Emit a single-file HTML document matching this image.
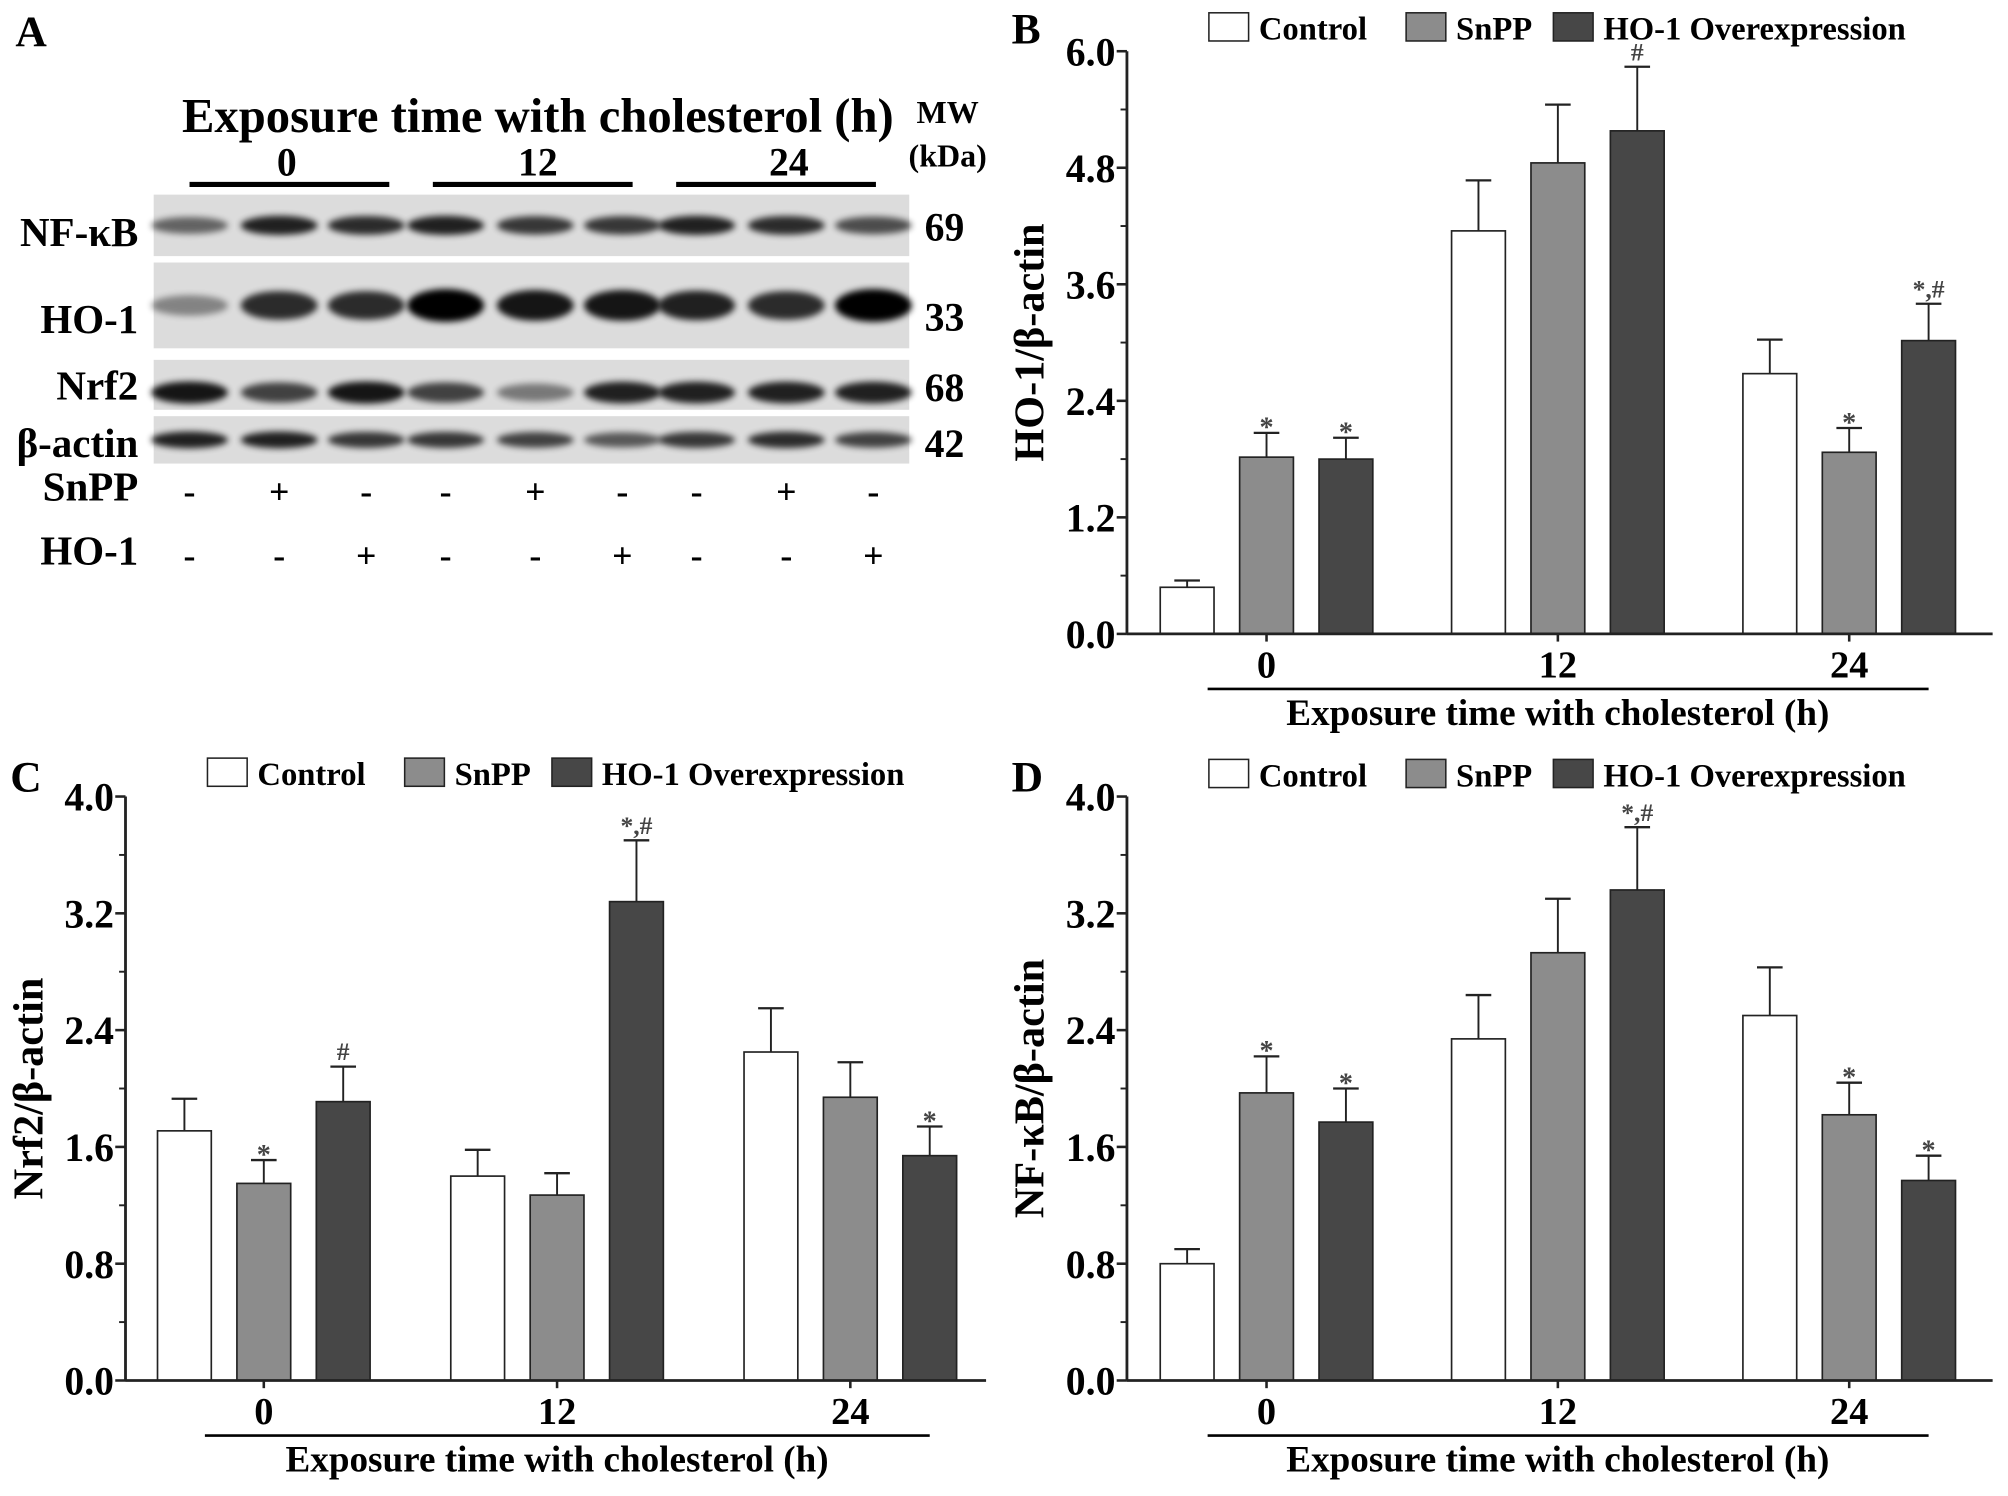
<!DOCTYPE html>
<html><head><meta charset="utf-8"><style>
html,body{margin:0;padding:0;background:#fff;}
svg{display:block;font-family:"Liberation Serif",serif;font-weight:bold;}
</style></head>
<body>
<svg id="fig" width="2008" height="1496" viewBox="0 0 1568 1168.2" preserveAspectRatio="none" xmlns="http://www.w3.org/2000/svg">
<defs><filter id="blur" x="-20%" y="-50%" width="140%" height="200%"><feGaussianBlur stdDeviation="2.5"/></filter></defs>
<g id="panelA">
<text x="12" y="36" font-size="34">A</text>
<text x="420" y="103" font-size="38" text-anchor="middle">Exposure time with cholesterol (h)</text>
<text x="740" y="96" font-size="25" text-anchor="middle">MW</text>
<text x="740" y="130" font-size="25" text-anchor="middle">(kDa)</text>
</g>
<g id="charts"></g>
</svg>
<script>
// ---------- chart data ----------
const categories = ["0", "12", "24"];
const seriesNames = ["Control", "SnPP", "HO-1 Overexpression"];
const seriesColors = ["#ffffff", "#8c8c8c", "#474747"];
const hoValues = [[0.48, 4.15, 2.68], [1.82, 4.85, 1.87], [1.80, 5.18, 3.02]];
const hoErrors = [[0.07, 0.52, 0.35], [0.25, 0.60, 0.25], [0.22, 0.66, 0.38]];
const hoMarks = [["", "", ""], ["*", "", "*"], ["*", "#", "*,#"]];
const hoTicks = ["0.0", "1.2", "2.4", "3.6", "4.8", "6.0"];
const nrfValues = [[1.71, 1.40, 2.25], [1.35, 1.27, 1.94], [1.91, 3.28, 1.54]];
const nrfErrors = [[0.22, 0.18, 0.30], [0.16, 0.15, 0.24], [0.24, 0.42, 0.20]];
const nrfMarks = [["", "", ""], ["*", "", ""], ["#", "*,#", "*"]];
const nfValues = [[0.80, 2.34, 2.50], [1.97, 2.93, 1.82], [1.77, 3.36, 1.37]];
const nfErrors = [[0.10, 0.30, 0.33], [0.25, 0.37, 0.22], [0.23, 0.43, 0.17]];
const nfMarks = [["", "", ""], ["*", "", "*"], ["*", "*,#", "*"]];
const smallTicks = ["0.0", "0.8", "1.6", "2.4", "3.2", "4.0"];
// blot data (band intensity 0..1 per lane)
const blotNames = ["NF-κB", "HO-1", "Nrf2", "β-actin"];
const blotMW = ["69", "33", "68", "42"];
const nfkbBand = [0.55, 0.85, 0.8, 0.85, 0.75, 0.75, 0.85, 0.8, 0.65];
const ho1Band = [0.4, 0.8, 0.8, 1.0, 0.9, 0.9, 0.85, 0.8, 1.0];
const nrf2Band = [0.9, 0.7, 0.9, 0.7, 0.45, 0.85, 0.85, 0.85, 0.85];
const actinBand = [0.85, 0.85, 0.75, 0.75, 0.7, 0.6, 0.75, 0.8, 0.7];
const snppSigns = ["-", "+", "-", "-", "+", "-", "-", "+", "-"];
const ho1Signs = ["-", "-", "+", "-", "-", "+", "-", "-", "+"];

const NS = "http://www.w3.org/2000/svg";
function mk(tag, attrs, parent) {
  const e = document.createElementNS(NS, tag);
  for (const k in attrs) e.setAttribute(k, attrs[k]);
  parent.appendChild(e);
  return e;
}

// ---------- blot ----------
const pa = document.getElementById("panelA");
const laneX = [148, 218, 286, 348, 418, 486, 544, 614, 682];
const strips = [[152, 200, nfkbBand, 0.7, 8], [205, 272, ho1Band, 0.85, 8], [281, 320, nrf2Band, 0.7, 9], [325, 362, actinBand, 0.7, 7]];
["0", "12", "24"].forEach((c, i) => {
  const t = mk("text", {x: 224 + i * 196, y: 137, "font-size": 31, "text-anchor": "middle"}, pa);
  t.textContent = c;
  
  
  const l = mk("line", {x1: 148 + i * 190, x2: 304 + i * 190, y1: 144, y2: 144, stroke: "#000", "stroke-width": 4}, pa);
  
  
});
strips.forEach((s, r) => {
  const g = mk("g", {}, pa);
  
  
  mk("rect", {x: 120, y: s[0], width: 590, height: s[1] - s[0], fill: "#dcdcdc"}, g);
  const cy = (s[0] + s[1]) / 2 + (r === 2 ? 6 : 0);
  s[2].forEach((v, i) => {
    const b = mk("ellipse", {cx: laneX[i], cy: cy, rx: 30, ry: s[4] * (0.6 + v * (r === 1 ? 1.0 : 0.4)), fill: "#000", opacity: v, filter: "url(#blur)"}, g);
    
    
  });
  const lab = mk("text", {x: 108, y: [192, 260, 312, 357][r], "font-size": 32, "text-anchor": "end"}, g);
  lab.textContent = blotNames[r];
  
  
  const mw = mk("text", {x: 722, y: [188, 258, 313, 357][r], "font-size": 31}, g);
  mw.textContent = blotMW[r];
  
  
});
[["SnPP", snppSigns, 391], ["HO-1", ho1Signs, 441]].forEach(row => {
  const t = mk("text", {x: 108, y: row[2], "font-size": 32, "text-anchor": "end"}, pa);
  t.textContent = row[0];
  
  
  row[1].forEach((sg, i) => {
    const s = mk("text", {x: laneX[i], y: row[2] + 2, "font-size": 28, "text-anchor": "middle"}, pa);
    s.textContent = sg;
    
    
  });
});

// ---------- bar charts ----------
const charts = document.getElementById("charts");
function barChart(o) {
  const g = mk("g", {}, charts);
  
  
  const maxV = parseFloat(o.ticks[o.ticks.length - 1]);
  const y = v => o.y0 - (v / maxV) * (o.y0 - o.yTop);
  const cx = (gi, si) => o.g0 + gi * o.gStep + (si - 1) * 62;
  const L = mk("text", {x: o.lx, y: o.ly, "font-size": 34}, g);
  L.textContent = o.letter;
  
  
  // legend
  const lx = [o.legX, o.legX + 154, o.legX + 269];
  seriesNames.forEach((n, i) => {
    const r = mk("rect", {x: lx[i], y: o.legY - 12, width: 31, height: 22, fill: seriesColors[i], stroke: "#222", "stroke-width": 1.2}, g);
    
    
    const t = mk("text", {x: lx[i] + 39, y: o.legY + 9, "font-size": 25.5}, g);
    t.textContent = n;
    
    
  });
  // bars
  seriesNames.forEach((n, si) => {
    categories.forEach((c, gi) => {
      const v = o.values[si][gi], e = o.errors[si][gi], x = cx(gi, si);
      const top = y(v), et = y(v + e);
      mk("line", {x1: x, x2: x, y1: top, y2: et, stroke: "#222", "stroke-width": 1.5}, g);
      const cap = mk("line", {x1: x - 10, x2: x + 10, y1: et, y2: et, stroke: "#222", "stroke-width": 1.8}, g);
      
      
      const b = mk("rect", {x: x - 21, y: top, width: 42, height: o.y0 - top, fill: seriesColors[si], stroke: "#222", "stroke-width": 1.3}, g);
      
      
      const m = o.marks[si][gi];
      if (m) {
        const t = mk("text", {x: x, y: et - 5 + (m === "*" ? 8 : 0), "font-size": m === "*" ? 22 : 20, "text-anchor": "middle", fill: "#444"}, g);
        t.textContent = m;
        
        
      }
    });
  });
  // axes
  const ya = mk("line", {x1: o.x0, x2: o.x0, y1: o.yTop, y2: o.y0, stroke: "#222", "stroke-width": 2.2}, g);
  
  
  const xa = mk("line", {x1: o.x0, x2: o.xEnd, y1: o.y0, y2: o.y0, stroke: "#222", "stroke-width": 2.2}, g);
  
  
  o.ticks.forEach((tk, i) => {
    const v = parseFloat(tk), ty = y(v);
    mk("line", {x1: o.x0 - 8, x2: o.x0, y1: ty, y2: ty, stroke: "#222", "stroke-width": 2}, g);
    if (i < o.ticks.length - 1) {
      const mv = (v + parseFloat(o.ticks[i + 1])) / 2;
      mk("line", {x1: o.x0 - 5, x2: o.x0, y1: y(mv), y2: y(mv), stroke: "#222", "stroke-width": 1.5}, g);
    }
    const t = mk("text", {x: o.x0 - 9, y: ty + 11, "font-size": 31, "text-anchor": "end"}, g);
    t.textContent = tk;
    
    
  });
  categories.forEach((c, gi) => {
    const x = cx(gi, 1);
    mk("line", {x1: x, x2: x, y1: o.y0, y2: o.y0 + 6, stroke: "#222", "stroke-width": 2}, g);
    const t = mk("text", {x: x, y: o.y0 + 34, "font-size": 30, "text-anchor": "middle"}, g);
    t.textContent = c;
    
    
  });
  const br = mk("line", {x1: cx(0, 0) + 16, x2: cx(2, 2), y1: o.y0 + 43, y2: o.y0 + 43, stroke: "#000", "stroke-width": 2}, g);
  
  
  const xt = mk("text", {x: (cx(0, 0) + cx(2, 2)) / 2 + 0, y: o.y0 + 71, "font-size": 29, "text-anchor": "middle"}, g);
  xt.textContent = "Exposure time with cholesterol (h)";
  
  
  const ytl = mk("text", {x: 0, y: 0, "font-size": 33, "text-anchor": "middle", transform: "translate(" + o.ytx + "," + ((o.yTop + o.y0) / 2 + o.ytdy) + ") rotate(-90)"}, g);
  ytl.textContent = o.ytitle;
  
  
}
barChart({name: "chart-b-ho1", letter: "B", lx: 790, ly: 34, legX: 944, legY: 22, x0: 880, xEnd: 1556, yTop: 40, y0: 495, g0: 989, gStep: 227.5,
  values: hoValues, errors: hoErrors, marks: hoMarks, ticks: hoTicks, ytx: 815, ytdy: 0, ytitle: "HO-1/β-actin"});
barChart({name: "chart-c-nrf2", letter: "C", lx: 8, ly: 618, legX: 162, legY: 604, x0: 98, xEnd: 770, yTop: 622, y0: 1078, g0: 206, gStep: 229,
  values: nrfValues, errors: nrfErrors, marks: nrfMarks, ticks: smallTicks, ytx: 33, ytdy: 0, ytitle: "Nrf2/β-actin"});
barChart({name: "chart-d-nfkb", letter: "D", lx: 790, ly: 618, legX: 944, legY: 605, x0: 880, xEnd: 1556, yTop: 622, y0: 1078, g0: 989, gStep: 227.5,
  values: nfValues, errors: nfErrors, marks: nfMarks, ticks: smallTicks, ytx: 815, ytdy: 0, ytitle: "NF-κB/β-actin"});
</script>
</body></html>
